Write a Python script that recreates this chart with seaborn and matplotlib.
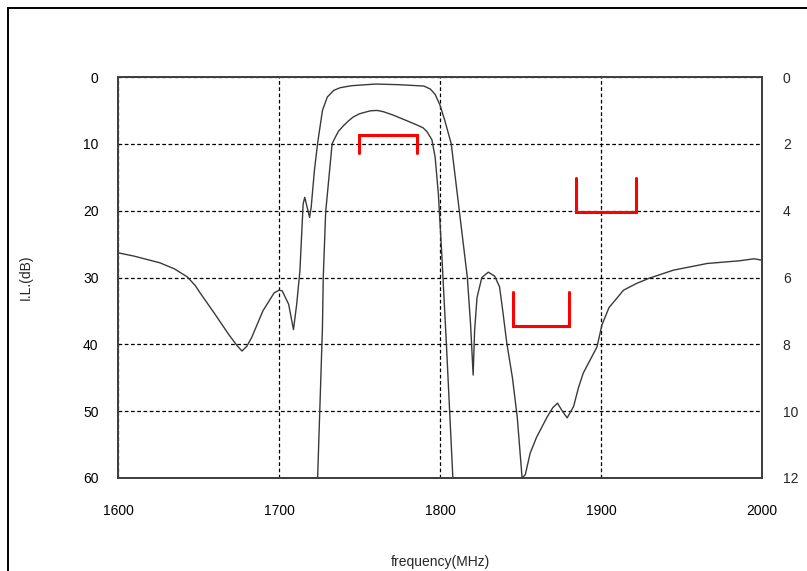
import pandas as pd
import seaborn as sns
import matplotlib.pyplot as plt
from matplotlib.patches import Rectangle

# wide-band response, left axis (dB)
wide_freq = [1600, 1610, 1626, 1635, 1643, 1648, 1651, 1660, 1669, 1674, 1677, 1680, 1683,
             1690, 1697, 1700, 1702, 1706, 1709, 1711, 1713, 1715, 1716, 1718, 1719, 1720,
             1722, 1724, 1727, 1730, 1734, 1738, 1745, 1760, 1775, 1790, 1794, 1797, 1800,
             1803, 1807, 1812, 1817, 1819, 1820.6, 1821.5, 1823, 1826, 1830, 1834, 1837,
             1839, 1841.5, 1845, 1848, 1851, 1853, 1856, 1860, 1866.5, 1870, 1873, 1876,
             1879, 1883, 1886, 1889, 1897.5, 1900.6, 1905, 1914, 1922, 1930, 1945, 1966,
             1986, 1995, 2000]
wide_il = [26.3, 26.8, 27.8, 28.7, 29.9, 31.2, 32.3, 35.4, 38.6, 40.2, 41, 40.3, 39,
           35, 32.3, 31.9, 32, 34, 37.8, 34, 29, 19, 18, 20, 21, 19.5,
           14, 9.9, 5, 3, 2, 1.6, 1.3, 1.05, 1.15, 1.35, 1.8, 2.6, 4.2,
           6.5, 10, 20, 30, 37, 44.6, 38, 33, 30, 29.2, 29.8, 31.4,
           35, 39.8, 45, 50.9, 60, 59.5, 56.3, 53.9, 50.9, 49.5, 48.8, 50,
           51, 49.3, 46.5, 44.3, 40.4, 37.1, 34.5, 31.9, 30.9, 30.1, 28.9, 27.9,
           27.5, 27.2, 27.4]

# passband detail, right axis (dB)
pass_freq = [1724, 1727, 1727.5, 1729, 1733, 1735, 1737, 1740, 1743, 1746, 1750, 1754.5,
             1757, 1761, 1765, 1771, 1776, 1781, 1785, 1789.5, 1792, 1795, 1797, 1799,
             1801, 1804, 1808]
pass_il = [12, 7.5, 6, 4.04, 2, 1.8, 1.62, 1.46, 1.32, 1.2, 1.1, 1.04,
           1.01, 1.0, 1.04, 1.14, 1.24, 1.34, 1.42, 1.52, 1.64, 1.88, 2.4, 3.5,
           5.2, 8, 12]

# spec masks (left axis units)
spec_low = [1749.7, 1845.5, 1884.5]
spec_high = [1785.7, 1880, 1921.7]
spec_level = [8.7, 37.3, 20.2]
spec_end = [11.4, 32.2, 15.1]

x_ticks = [1600, 1700, 1800, 1900, 2000]
left_ticks = [0, 10, 20, 30, 40, 50, 60]
right_ticks = [0, 2, 4, 6, 8, 10, 12]

sns.set_style("white")
plt.rcParams['font.family'] = ['Liberation Sans', 'DejaVu Sans']

fig = plt.figure(figsize=(8.07, 5.71), dpi=100)
ax = fig.add_axes([0.1462, 0.1629, 0.798, 0.7022])
ax2 = ax.twinx()

wide = pd.DataFrame({"freq": wide_freq, "il": wide_il})
band = pd.DataFrame({"freq": pass_freq, "il": pass_il})

sns.lineplot(data=wide, x="freq", y="il", ax=ax, color="#3a3a3a", lw=1.0, sort=False)
sns.lineplot(data=band, x="freq", y="il", ax=ax2, color="#3a3a3a", lw=1.0, sort=False)

for lo, hi, lev, end in zip(spec_low, spec_high, spec_level, spec_end):
    ax.plot([lo, lo, hi, hi], [end, lev, lev, end], color="red", lw=2.2,
            solid_joinstyle="miter", zorder=5)

ax.set_xlim(1600, 2000)
ax.set_ylim(60, 0)
ax2.set_ylim(12, 0)
ax.set_xticks(x_ticks)
ax.set_yticks(left_ticks)
ax2.set_yticks(right_ticks)

ax.grid(True, color="black", ls=(0, (3, 2)), lw=0.9)
ax.set_axisbelow(True)
ax2.grid(False)

ax.tick_params(axis="both", length=0, labelsize=10, colors="black")
ax.tick_params(axis="y", pad=14)
ax.tick_params(axis="x", pad=19)
ax2.tick_params(axis="y", length=0, labelsize=10, pad=15)

for a in (ax, ax2):
    for s in a.spines.values():
        s.set_color("#404040")
        s.set_linewidth(1.3)

ax.set_xlabel("frequency(MHz)", fontsize=10)
ax.set_ylabel("I.L.(dB)", fontsize=10)
ax2.set_ylabel("")
ax.xaxis.set_label_coords(0.5, -0.192)
ax.yaxis.set_label_coords(-0.132, 0.5)

# outer frame of the original sheet
fig.patches.append(Rectangle((8 / 807, -0.1), 1.1, 1.1 - 8 / 571, transform=fig.transFigure,
                             fill=False, edgecolor="black", lw=1.4))

fig.savefig("out.png", dpi=100)
